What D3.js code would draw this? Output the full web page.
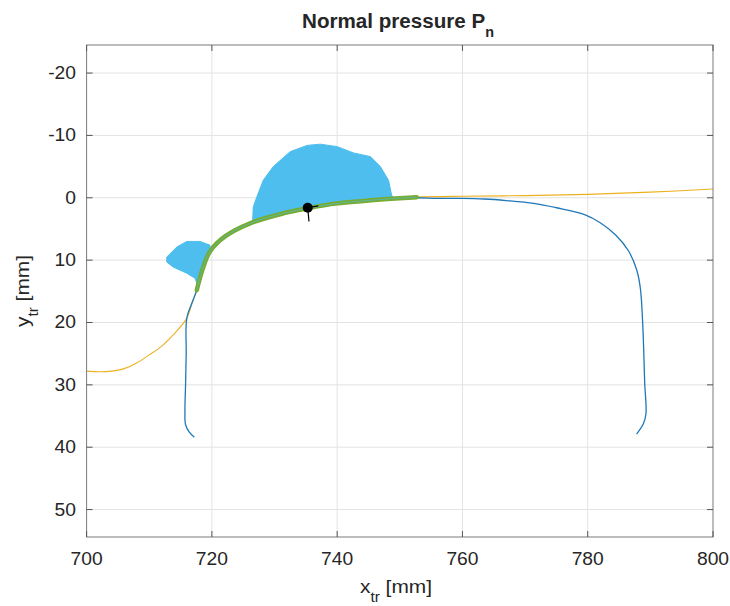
<!DOCTYPE html>
<html>
<head>
<meta charset="utf-8">
<script src="https://cdn.jsdelivr.net/npm/d3@7"></script>
<style>
  body { margin: 0; background: #fff; }
  svg text { font-family: "Liberation Sans", Arial, Helvetica, sans-serif; fill: #262626; }
</style>
</head>
<body>
<svg id="chart" width="730" height="606"></svg>
<script>
// tick values
const xTicks = [700, 720, 740, 760, 780, 800];
const yTicks = [-20, -10, 0, 10, 20, 30, 40, 50];

// wheel profile (yellow)
const wheelX = [700, 702, 704, 706, 708, 710, 712, 714, 716, 717, 717.6, 718.5, 719.7, 722.1, 726.1, 731.4, 735.2, 740, 744.2, 748, 752.7, 760, 770, 780, 790, 800];
const wheelY = [27.8, 27.9, 27.8, 27.4, 26.5, 25.2, 23.8, 21.8, 19.3, 16.4, 14.8, 11.5, 8.6, 6.2, 4.1, 2.5, 1.7, 0.9, 0.5, 0.2, -0.1, -0.25, -0.35, -0.55, -0.9, -1.4];

// rail profile (blue)
const railX = [717.2, 716.4, 715.8, 715.7, 715.8, 715.9, 716, 717, 717.6, 718.5, 719.7, 722.1, 726.1, 731.4, 735.2, 740, 744.2, 748, 752.7, 756, 760, 763.5, 767, 771.4, 775, 779.5, 782, 784.5, 786.5, 787.8, 788.4, 788.8, 789.1, 789.3, 788.9, 787.8];
const railY = [38.4, 37.6, 36.4, 34, 30, 25, 19.3, 16.4, 14.8, 11.5, 8.6, 6.2, 4.1, 2.5, 1.7, 0.9, 0.5, 0.2, 0.0, 0.1, 0.1, 0.2, 0.45, 0.9, 1.6, 2.7, 4.0, 6.0, 8.5, 11.5, 14.5, 20.7, 29.7, 34.6, 36.2, 37.9];

// contact zone (green)
const contactX = [717.6, 718.5, 719.7, 722.1, 726.1, 731.4, 735.2, 740, 744.2, 748, 752.7];
const contactY = [14.8, 11.5, 8.6, 6.2, 4.1, 2.5, 1.7, 0.9, 0.5, 0.2, -0.1];

// normal pressure envelopes (light blue)
const lobe1X = [726.5, 726.6, 727.2, 728.2, 729.8, 732.5, 735.2, 737.3, 740, 742.6, 745.3, 746.9, 748.2, 748.7, 749.3, 748, 744.2, 740, 735.2, 731.4, 726.5];
const lobe1Y = [3.9, 1.5, -0.2, -2.8, -5.0, -7.4, -8.4, -8.6, -8.2, -7.2, -6.6, -5.0, -2.8, -0.4, 0.2, 0.2, 0.5, 0.9, 1.7, 2.5, 3.9];
const lobe2X = [719.7, 719.7, 718.1, 716, 714.4, 712.8, 712.8, 713.8, 716, 717.3, 717.6, 717.6, 718.5, 719.7];
const lobe2Y = [8.6, 7.6, 7.0, 7.0, 7.9, 9.5, 10.3, 11.1, 12.1, 12.9, 13.7, 14.8, 11.5, 8.6];

// contact point and its local axes
const pointX = 735.3, pointY = 1.6;
const axisEndX = [737, 735.5];
const axisEndY = [1.3, 3.8];

const svg = d3.select("#chart");
const mLeft = 86.6, mRight = 713, mTop = 45, mBottom = 537;

const x = d3.scaleLinear().domain([700, 800]).range([mLeft, mRight]);
const y = d3.scaleLinear().domain([-24.5, 54.4]).range([mTop, mBottom]);

// stretched text helper (MATLAB export looks a bit wide)
function label(parent, px, py, anchor, size, weight, sx) {
  const g = parent.append("g").attr("transform", `translate(${px},${py}) scale(${sx},1)`);
  return g.append("text")
    .attr("text-anchor", anchor)
    .style("font-size", size + "px")
    .style("font-weight", weight);
}

// grid
svg.append("g").selectAll("line")
  .data(xTicks.slice(1, -1))
  .enter().append("line")
  .attr("x1", d => x(d)).attr("x2", d => x(d))
  .attr("y1", mTop).attr("y2", mBottom)
  .attr("stroke", "#e3e3e3").attr("stroke-width", 1);
svg.append("g").selectAll("line")
  .data(yTicks)
  .enter().append("line")
  .attr("y1", d => y(d)).attr("y2", d => y(d))
  .attr("x1", mLeft).attr("x2", mRight)
  .attr("stroke", "#e3e3e3").attr("stroke-width", 1);

svg.append("clipPath").attr("id", "clip")
  .append("rect").attr("x", mLeft).attr("y", mTop).attr("width", mRight - mLeft).attr("height", mBottom - mTop);

const plot = svg.append("g").attr("clip-path", "url(#clip)");

const line = d3.line().x(d => x(d[0])).y(d => y(d[1])).curve(d3.curveCatmullRom);
const zip = (a, b) => a.map((v, i) => [v, b[i]]);

plot.append("path")
  .attr("d", line(zip(wheelX, wheelY)))
  .attr("fill", "none").attr("stroke", "#EDB120").attr("stroke-width", 1.1);

plot.append("path")
  .attr("d", line(zip(railX, railY)))
  .attr("fill", "none").attr("stroke", "#1f78b8").attr("stroke-width", 1.3);

const area = d3.line().x(d => x(d[0])).y(d => y(d[1])).curve(d3.curveLinearClosed);
plot.selectAll("path.lobe")
  .data([zip(lobe1X, lobe1Y), zip(lobe2X, lobe2Y)])
  .enter().append("path")
  .attr("class", "lobe")
  .attr("d", area)
  .attr("fill", "#4DBEEE").attr("stroke", "#4DBEEE").attr("stroke-width", 1);

plot.append("path")
  .attr("d", line(zip(contactX, contactY)))
  .attr("fill", "none").attr("stroke", "#77AC30").attr("stroke-width", 4.5)
  .attr("stroke-linecap", "round");

plot.append("path")
  .attr("d", line(zip(contactX, contactY)))
  .attr("fill", "none").attr("stroke", "#4DBEEE").attr("stroke-width", 1)
  .attr("opacity", 0.6);

plot.selectAll("line.ax")
  .data(axisEndX)
  .enter().append("line")
  .attr("x1", x(pointX)).attr("y1", y(pointY))
  .attr("x2", d => x(d)).attr("y2", (d, i) => y(axisEndY[i]))
  .attr("stroke", "#000").attr("stroke-width", 1.2);

plot.append("circle")
  .attr("cx", x(pointX)).attr("cy", y(pointY)).attr("r", 5)
  .attr("fill", "#000");

// box + ticks
svg.append("rect")
  .attr("x", mLeft).attr("y", mTop).attr("width", mRight - mLeft).attr("height", mBottom - mTop)
  .attr("fill", "none").attr("stroke", "#7a7a7a").attr("stroke-width", 1);

const tl = 6;
xTicks.forEach(t => {
  svg.append("line").attr("x1", x(t)).attr("x2", x(t)).attr("y1", mBottom).attr("y2", mBottom - tl).attr("stroke", "#555");
  svg.append("line").attr("x1", x(t)).attr("x2", x(t)).attr("y1", mTop).attr("y2", mTop + tl).attr("stroke", "#555");
  label(svg, x(t), 565, "middle", 17.5, "normal", 1.1).text(t);
});
yTicks.forEach(t => {
  svg.append("line").attr("y1", y(t)).attr("y2", y(t)).attr("x1", mLeft).attr("x2", mLeft + tl).attr("stroke", "#555");
  svg.append("line").attr("y1", y(t)).attr("y2", y(t)).attr("x1", mRight).attr("x2", mRight - tl).attr("stroke", "#555");
  label(svg, 76, y(t) + 6, "end", 17.5, "normal", 1.1).text(t);
});

// title
const title = label(svg, 398, 27.5, "middle", 20, "bold", 1.03);
title.append("tspan").text("Normal pressure P");
title.append("tspan").attr("dy", 9).style("font-size", "14px").text("n");

// x label
const xl = label(svg, 396, 593, "middle", 19, "normal", 1.1);
xl.append("tspan").text("x");
xl.append("tspan").attr("dy", 9).style("font-size", "14px").text("tr");
xl.append("tspan").attr("dy", -9).text(" [mm]");

// y label
const yg = svg.append("g").attr("transform", `translate(29,${(mTop + mBottom) / 2}) rotate(-90) scale(1.1,1)`);
const yl = yg.append("text").attr("text-anchor", "middle").style("font-size", "19px");
yl.append("tspan").text("y");
yl.append("tspan").attr("dy", 9).style("font-size", "14px").text("tr");
yl.append("tspan").attr("dy", -9).text(" [mm]");
</script>
</body>
</html>
